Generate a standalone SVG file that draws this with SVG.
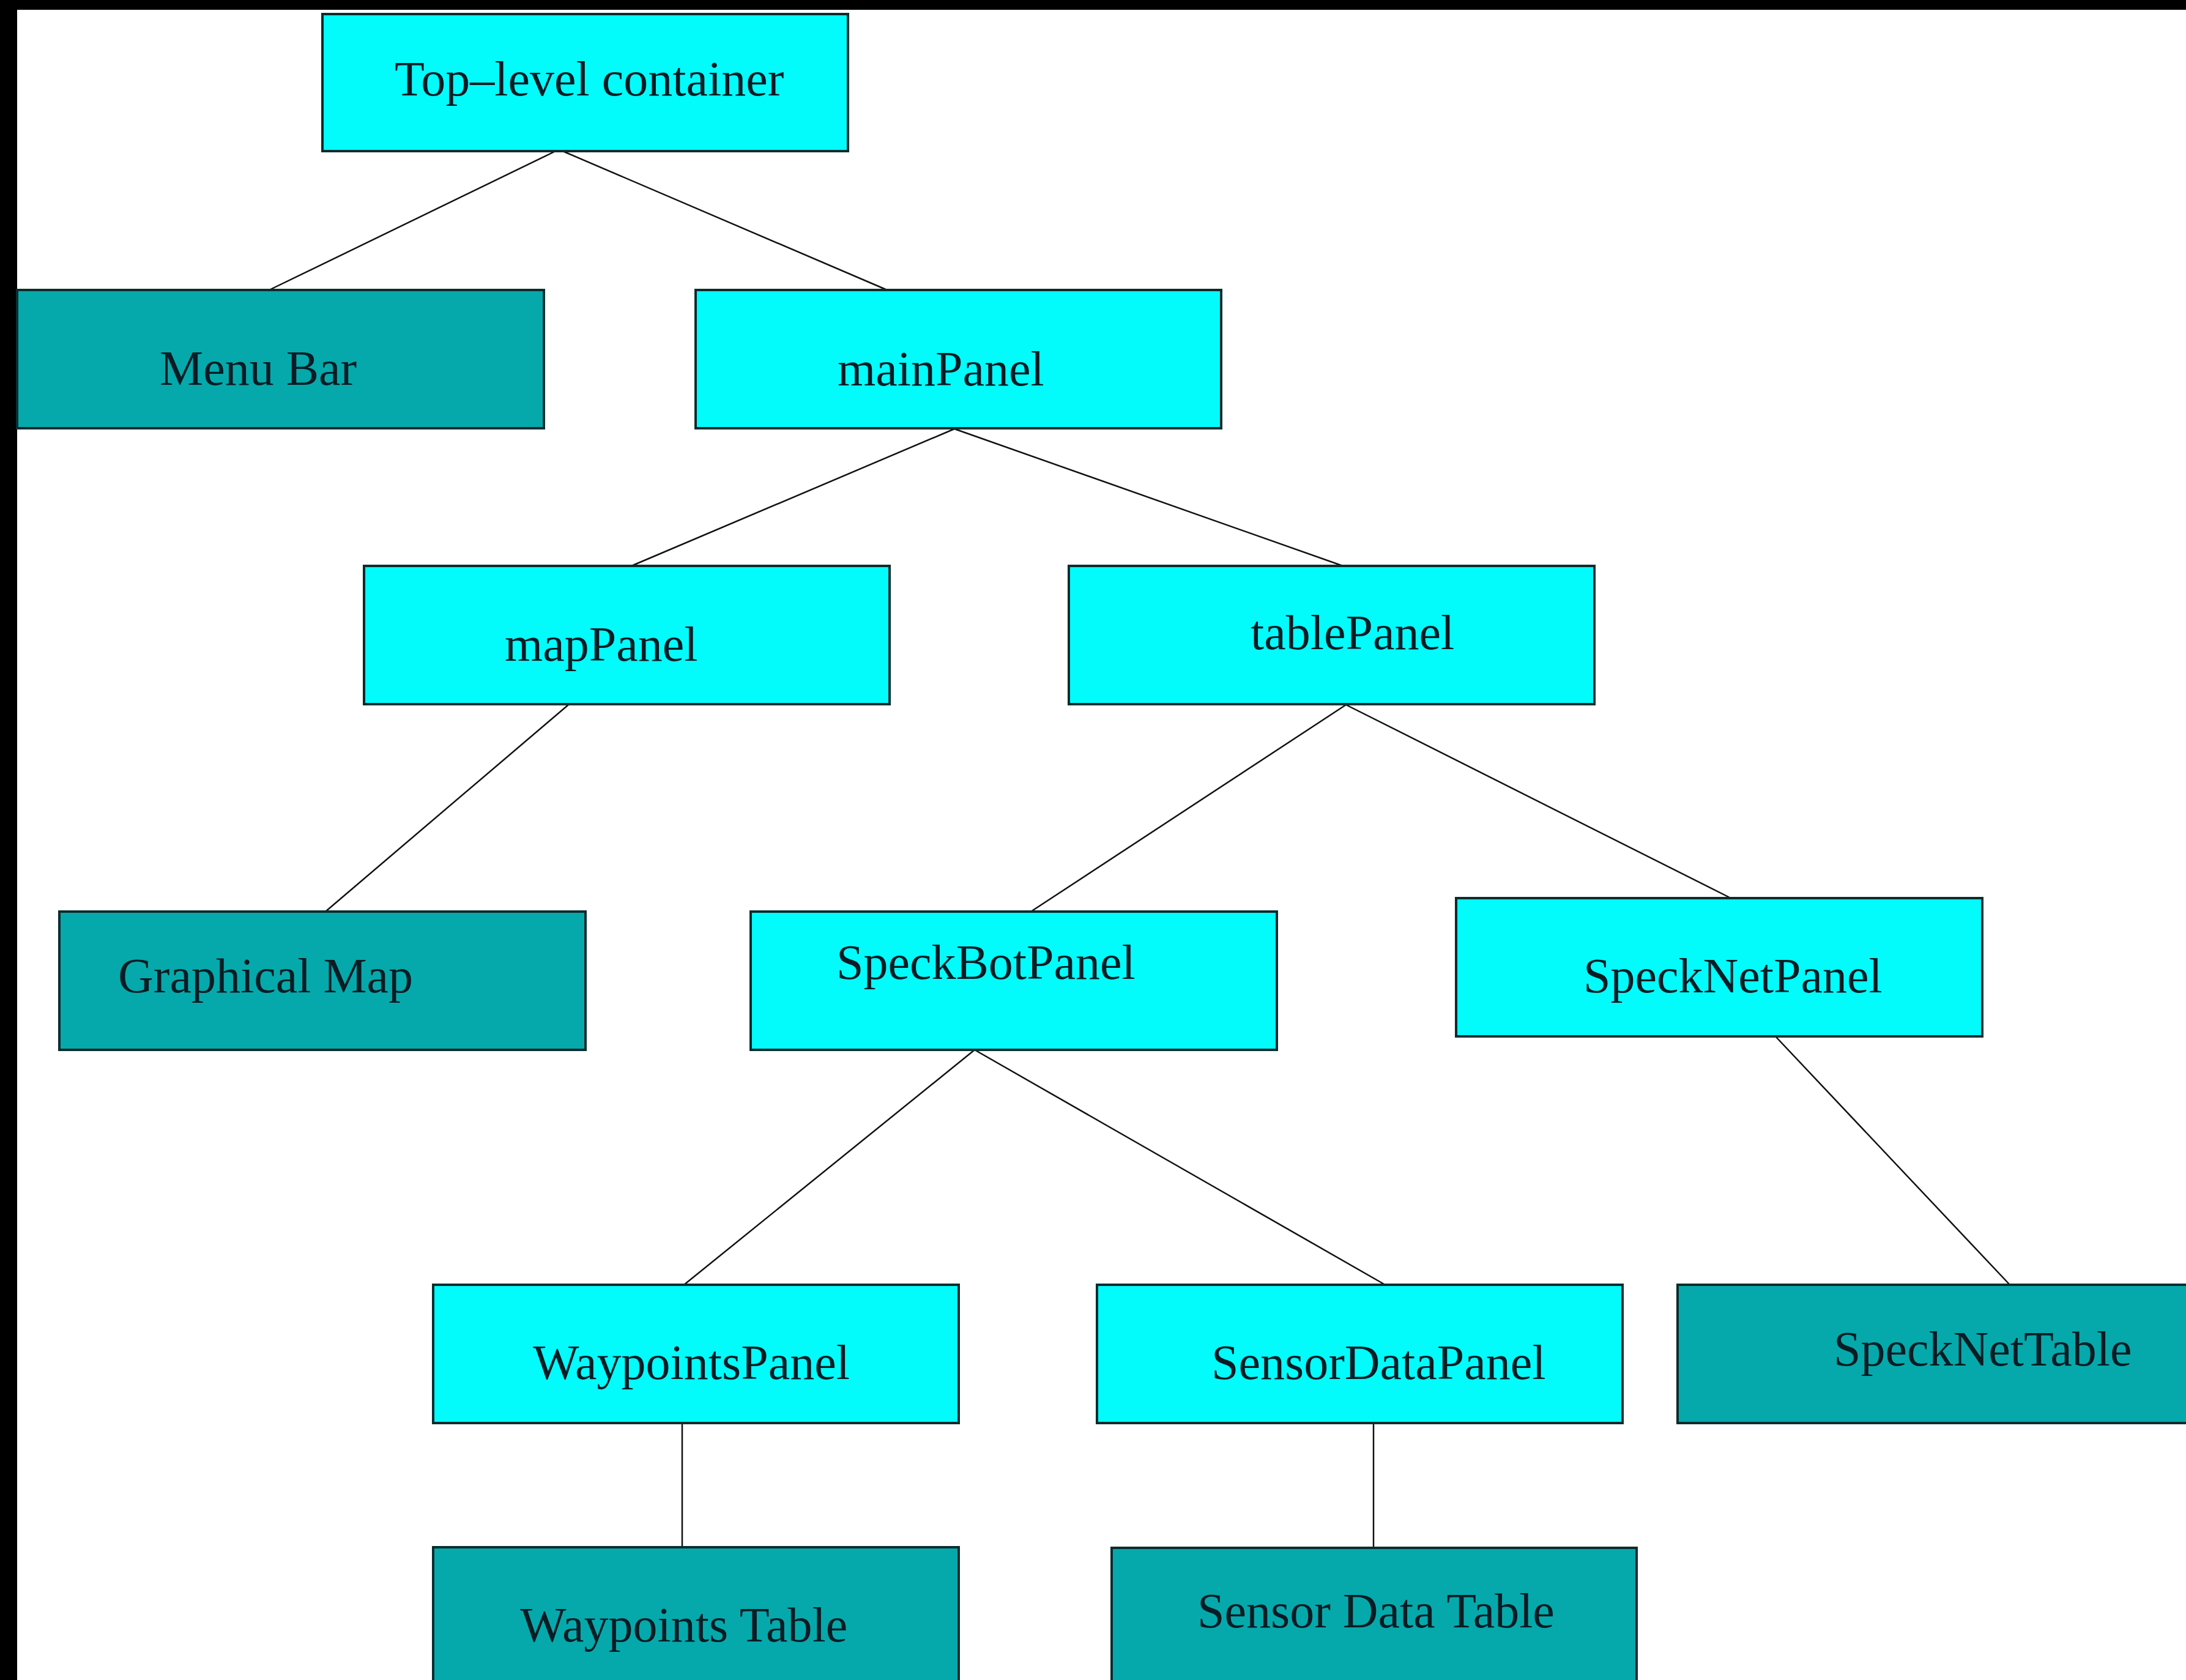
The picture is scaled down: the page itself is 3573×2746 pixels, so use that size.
<svg xmlns="http://www.w3.org/2000/svg" width="3573" height="2746" viewBox="0 0 3573 2746">
  <style>
    .box { stroke: #0c2c2e; stroke-width: 4; }
    .panel { fill: #02fbfb; }
    .leaf { fill: #05a9ab; }
    .lbl { font-family: "Liberation Serif", "Times New Roman", serif; font-size: 80px; fill: #0a1c24; }
    .conn { stroke: #111111; stroke-width: 2.5; fill: none; }
  </style>
  <rect x="0" y="0" width="3573" height="2746" fill="#ffffff"/>
  <rect x="0" y="0" width="3573" height="16" fill="#000000"/>
  <rect x="0" y="0" width="28" height="2746" fill="#000000"/>

  <g id="connectors">
    <line class="conn" x1="906" y1="248" x2="440" y2="474"/>
    <line class="conn" x1="922" y1="248" x2="1450" y2="474"/>
    <line class="conn" x1="1560" y1="701" x2="1032" y2="925"/>
    <line class="conn" x1="1560" y1="701" x2="2195" y2="925"/>
    <line class="conn" x1="929" y1="1152" x2="532" y2="1490"/>
    <line class="conn" x1="2200" y1="1152" x2="1685" y2="1490"/>
    <line class="conn" x1="2200" y1="1152" x2="2829" y2="1468"/>
    <line class="conn" x1="1593" y1="1716" x2="1118" y2="2100"/>
    <line class="conn" x1="1593" y1="1716" x2="2264" y2="2100"/>
    <line class="conn" x1="2902" y1="1694" x2="3285" y2="2100"/>
    <line class="conn" x1="1115" y1="2326" x2="1115" y2="2529"/>
    <line class="conn" x1="2245" y1="2326" x2="2245" y2="2530"/>
  </g>

  <g id="top-level-container">
    <rect class="box panel" x="527" y="23" width="859" height="224"/>
    <text class="lbl" x="645" y="156">Top–level container</text>
  </g>
  <g id="menu-bar">
    <rect class="box leaf" x="28" y="474" width="861" height="226"/>
    <text class="lbl" x="261" y="629">Menu Bar</text>
  </g>
  <g id="main-panel">
    <rect class="box panel" x="1137" y="474" width="859" height="226"/>
    <text class="lbl" x="1369" y="630">mainPanel</text>
  </g>
  <g id="map-panel">
    <rect class="box panel" x="595" y="925" width="859" height="226"/>
    <text class="lbl" x="825" y="1080">mapPanel</text>
  </g>
  <g id="table-panel">
    <rect class="box panel" x="1747" y="925" width="859" height="226"/>
    <text class="lbl" x="2044" y="1061">tablePanel</text>
  </g>
  <g id="graphical-map">
    <rect class="box leaf" x="97" y="1490" width="860" height="226"/>
    <text class="lbl" x="193" y="1622">Graphical Map</text>
  </g>
  <g id="speckbot-panel">
    <rect class="box panel" x="1227" y="1490" width="860" height="226"/>
    <text class="lbl" x="1367" y="1600">SpeckBotPanel</text>
  </g>
  <g id="specknet-panel">
    <rect class="box panel" x="2380" y="1468" width="860" height="226"/>
    <text class="lbl" x="2588" y="1622">SpeckNetPanel</text>
  </g>
  <g id="waypoints-panel">
    <rect class="box panel" x="708" y="2100" width="859" height="226"/>
    <text class="lbl" x="871" y="2254">WaypointsPanel</text>
  </g>
  <g id="sensordata-panel">
    <rect class="box panel" x="1793" y="2100" width="859" height="226"/>
    <text class="lbl" x="1980" y="2254">SensorDataPanel</text>
  </g>
  <g id="specknet-table">
    <rect class="box leaf" x="2742" y="2100" width="880" height="226"/>
    <text class="lbl" x="2997" y="2232">SpeckNetTable</text>
  </g>
  <g id="waypoints-table">
    <rect class="box leaf" x="708" y="2529" width="859" height="260"/>
    <text class="lbl" x="850" y="2683">Waypoints Table</text>
  </g>
  <g id="sensor-data-table">
    <rect class="box leaf" x="1817" y="2530" width="858" height="260"/>
    <text class="lbl" x="1957" y="2660">Sensor Data Table</text>
  </g>
</svg>
